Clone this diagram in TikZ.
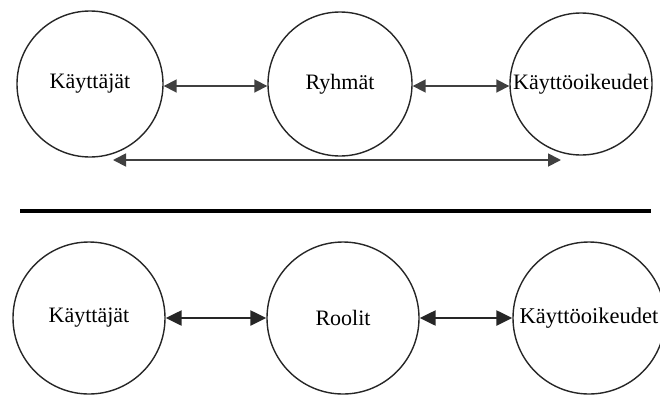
\documentclass[tikz,border=0pt]{standalone}
\usepackage{fontspec}
\setmainfont{Liberation Serif}
\usetikzlibrary{arrows.meta}
\begin{document}
\begin{tikzpicture}[x=1pt,y=-1pt,
  ent/.style={circle,draw=black!85,line width=1.4pt,minimum size=#1,inner sep=0pt,font=\fontsize{22}{25}\selectfont},
  ent/.default=146pt,
  thinarr/.style={{Triangle[length=13pt,width=13pt]}-{Triangle[length=13pt,width=13pt]},line width=1.8pt,draw=black!75,fill=black!85},
  thickarr/.style={{Triangle[length=16pt,width=15pt]}-{Triangle[length=16pt,width=15pt]},line width=2.4pt,draw=black!85,fill=black!85},
  sep/.style={line width=4pt,draw=black}]
\useasboundingbox (0,0) rectangle (660,394);
% top row
\node[ent] (u1) at (90,84) {\makebox[0pt]{Käyttäjät}};
\node[ent=144pt] (g1) at (340,84) {\makebox[0pt]{Ryhmät}};
\node[ent=142pt] (p1) at (581,84) {\makebox[0pt]{Käyttöoikeudet}};
\draw[thinarr] (u1.east |- 0,86) -- (g1.west |- 0,86);
\draw[thinarr] (g1.east |- 0,86) -- (p1.west |- 0,86);
\coordinate (la) at (113,160);
\coordinate (lb) at (561,160);
\draw[thinarr] (la) -- (lb);
% separator
\coordinate (s1) at (20,211);
\coordinate (s2) at (651,211);
\draw[sep] (s1) -- (s2);
% bottom row
\node[ent=152pt] (u2) at (89,318) {\makebox[0pt]{Käyttäjät}};
\node[ent=152pt] (r2) at (343,318) {\makebox[0pt]{Roolit}};
\node[ent=152pt] (p2) at (589,318) {\makebox[0pt]{\fontsize{22.5}{25}\selectfont Käyttöoikeudet}};
\draw[thickarr] (u2) -- (r2);
\draw[thickarr] (r2) -- (p2);
\end{tikzpicture}
\end{document}
